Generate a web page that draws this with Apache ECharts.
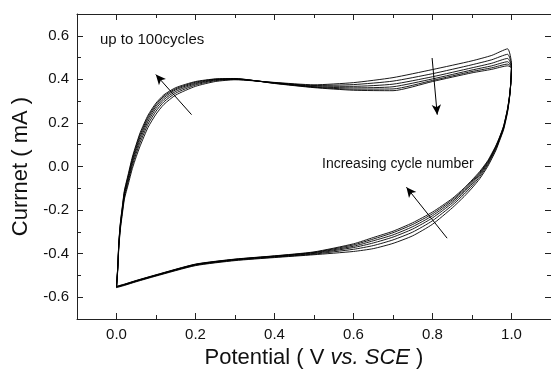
<!DOCTYPE html>
<html>
<head>
<meta charset="utf-8">
<script src="https://cdn.jsdelivr.net/npm/echarts@6/dist/echarts.min.js"></script>
<style>
  html, body {margin: 0; padding: 0; background: #fff;}
  #chart {width: 551px; height: 374px;}
</style>
</head>
<body>
<div id="chart"></div>
<script>
// potential grid: anodic sweep 0 -> 1 V, then cathodic sweep 1 -> 0 V
const fwdPotential = [0, 0.003, 0.006, 0.01, 0.015, 0.02, 0.03, 0.04, 0.05, 0.06, 0.08, 0.1, 0.12, 0.15, 0.2, 0.25, 0.3, 0.4, 0.5, 0.6, 0.7, 0.8, 0.9, 0.95, 0.99];
const revPotential = [1.0, 0.998, 0.995, 0.99, 0.98, 0.97, 0.96, 0.94, 0.92, 0.9, 0.88, 0.85, 0.8, 0.75, 0.7, 0.65, 0.6, 0.5, 0.4, 0.3, 0.2, 0.1, 0.05, 0.02, 0];

// current (mA), forward part then reverse part, one array per cycle
const cycle1 = [-0.556, -0.48, -0.37, -0.285, -0.215, -0.15, -0.08, -0.01, 0.045, 0.095, 0.18, 0.24, 0.285, 0.328, 0.368, 0.39, 0.398, 0.386, 0.375, 0.385, 0.408, 0.445, 0.485, 0.51, 0.54,
  0.47, 0.375, 0.315, 0.249, 0.169, 0.119, 0.072, 0.001, -0.055, -0.099, -0.138, -0.19, -0.265, -0.318, -0.353, -0.377, -0.39, -0.405, -0.418, -0.432, -0.455, -0.503, -0.529, -0.546, -0.556];
const cycle2 = [-0.554, -0.476, -0.363, -0.277, -0.206, -0.14, -0.068, 0.004, 0.06, 0.111, 0.195, 0.254, 0.297, 0.337, 0.374, 0.394, 0.4, 0.385, 0.372, 0.376, 0.392, 0.426, 0.467, 0.49, 0.515,
  0.465, 0.376, 0.317, 0.254, 0.174, 0.124, 0.078, 0.008, -0.046, -0.089, -0.127, -0.178, -0.249, -0.301, -0.337, -0.363, -0.38, -0.402, -0.416, -0.43, -0.453, -0.501, -0.527, -0.544, -0.554];
const cycle3 = [-0.553, -0.472, -0.357, -0.27, -0.198, -0.131, -0.057, 0.016, 0.073, 0.125, 0.208, 0.266, 0.307, 0.345, 0.379, 0.397, 0.401, 0.384, 0.369, 0.368, 0.378, 0.412, 0.453, 0.474, 0.496,
  0.46, 0.378, 0.32, 0.258, 0.178, 0.128, 0.083, 0.014, -0.038, -0.08, -0.118, -0.168, -0.236, -0.287, -0.324, -0.351, -0.372, -0.399, -0.414, -0.428, -0.451, -0.5, -0.526, -0.543, -0.553];
const cycle4 = [-0.552, -0.469, -0.352, -0.264, -0.191, -0.123, -0.048, 0.026, 0.084, 0.137, 0.219, 0.276, 0.316, 0.352, 0.383, 0.399, 0.402, 0.383, 0.366, 0.361, 0.366, 0.402, 0.443, 0.462, 0.481,
  0.457, 0.379, 0.322, 0.261, 0.181, 0.131, 0.087, 0.019, -0.032, -0.073, -0.111, -0.16, -0.226, -0.276, -0.314, -0.341, -0.366, -0.396, -0.412, -0.427, -0.45, -0.499, -0.525, -0.542, -0.552];
const cycle5 = [-0.551, -0.466, -0.348, -0.259, -0.185, -0.116, -0.04, 0.035, 0.094, 0.147, 0.228, 0.284, 0.323, 0.357, 0.387, 0.401, 0.403, 0.382, 0.364, 0.355, 0.356, 0.395, 0.436, 0.453, 0.47,
  0.455, 0.38, 0.324, 0.264, 0.184, 0.134, 0.091, 0.023, -0.027, -0.067, -0.105, -0.153, -0.217, -0.266, -0.304, -0.333, -0.36, -0.394, -0.411, -0.426, -0.449, -0.498, -0.524, -0.541, -0.551];
const cycle6 = [-0.55, -0.464, -0.345, -0.255, -0.18, -0.11, -0.033, 0.043, 0.102, 0.156, 0.236, 0.291, 0.329, 0.362, 0.39, 0.402, 0.404, 0.381, 0.362, 0.35, 0.348, 0.39, 0.43, 0.446, 0.462,
  0.452, 0.381, 0.326, 0.266, 0.186, 0.136, 0.094, 0.027, -0.022, -0.062, -0.099, -0.147, -0.209, -0.258, -0.297, -0.326, -0.355, -0.392, -0.41, -0.425, -0.448, -0.497, -0.523, -0.54, -0.55];

const xMajorTicks = [0, 0.2, 0.4, 0.6, 0.8, 1.0];
const yMajorTicks = [-0.6, -0.4, -0.2, 0, 0.2, 0.4, 0.6];

// arrows: [tail, head] in data coordinates
const arrows = [
  [[0.19, 0.238], [0.0995, 0.422]],
  [[0.799, 0.498], [0.812, 0.238]],
  [[0.837, -0.329], [0.734, -0.095]]
];

const potential = fwdPotential.concat(revPotential);
const cycles = [cycle1, cycle2, cycle3, cycle4, cycle5, cycle6];

const font = 'Liberation Sans, Arial, sans-serif';
const ink = '#111';
const X_MIN = -0.1, X_MAX = 1.1, Y_MIN = -0.7, Y_MAX = 0.7;

function majorAxis(pos, isX, showLabel) {
  const ticks = isX ? xMajorTicks : yMajorTicks;
  return {
    type: 'value',
    position: pos,
    min: isX ? X_MIN : Y_MIN,
    max: isX ? X_MAX : Y_MAX,
    splitLine: {show: false},
    axisLine: {show: true, onZero: false, lineStyle: {color: '#222', width: 1}},
    axisTick: {show: true, inside: true, length: 6, customValues: ticks, lineStyle: {color: '#222'}},
    axisLabel: {
      show: showLabel,
      customValues: ticks,
      margin: 8,
      fontFamily: font,
      fontSize: 15,
      color: ink,
      formatter: v => v.toFixed(1)
    }
  };
}

function minorAxis(pos, isX) {
  return {
    type: 'value',
    position: pos,
    min: isX ? X_MIN : Y_MIN,
    max: isX ? X_MAX : Y_MAX,
    interval: 0.1,
    splitLine: {show: false},
    axisLine: {show: false, onZero: false},
    axisTick: {show: true, inside: true, length: 4, lineStyle: {color: '#222'}},
    axisLabel: {show: false}
  };
}

const chart = echarts.init(document.getElementById('chart'), null, {renderer: 'canvas'});

const xBottom = majorAxis('bottom', true, true);
xBottom.name = 'Potential ( V {i|vs.} {i|SCE} )';
xBottom.nameLocation = 'middle';
xBottom.nameGap = 25;
xBottom.nameTextStyle = {
  fontFamily: font, fontSize: 22, color: ink,
  rich: {i: {fontFamily: font, fontSize: 22, fontStyle: 'italic', color: ink}}
};

const yLeft = majorAxis('left', false, true);
yLeft.name = 'Currnet ( mA )';
yLeft.nameLocation = 'middle';
yLeft.nameGap = 41;
yLeft.nameTextStyle = {fontFamily: font, fontSize: 22, color: ink};

chart.setOption({
  animation: false,
  backgroundColor: '#fff',
  grid: {left: 77, right: 0, top: 14, bottom: 55, containLabel: false},
  xAxis: [xBottom, minorAxis('bottom', true), majorAxis('top', true, false), minorAxis('top', true)],
  yAxis: [yLeft, minorAxis('left', false), majorAxis('right', false, false), minorAxis('right', false)],
  graphic: [
    {
      type: 'text', left: 100, top: 32, silent: true,
      style: {text: 'up to 100cycles', font: '15px ' + font, fill: ink}
    },
    {
      type: 'text', left: 322, top: 157, silent: true,
      style: {text: 'Increasing cycle number', font: '14px ' + font, fill: ink}
    }
  ],
  series: cycles.map((c, i) => ({
    name: 'cycle ' + (i + 1),
    type: 'line',
    xAxisIndex: 0,
    yAxisIndex: 0,
    data: c.map((v, k) => [potential[k], v]),
    showSymbol: false,
    smooth: 0.2,
    lineStyle: {color: '#000', width: 0.9},
    silent: true,
    markLine: i === 0 ? {
      silent: true,
      symbol: ['none', 'arrow'],
      symbolSize: [7, 10],
      label: {show: false},
      lineStyle: {color: '#000', width: 1, type: 'solid'},
      data: arrows.map(a => [{coord: a[0]}, {coord: a[1]}])
    } : undefined
  }))
});
</script>
</body>
</html>
